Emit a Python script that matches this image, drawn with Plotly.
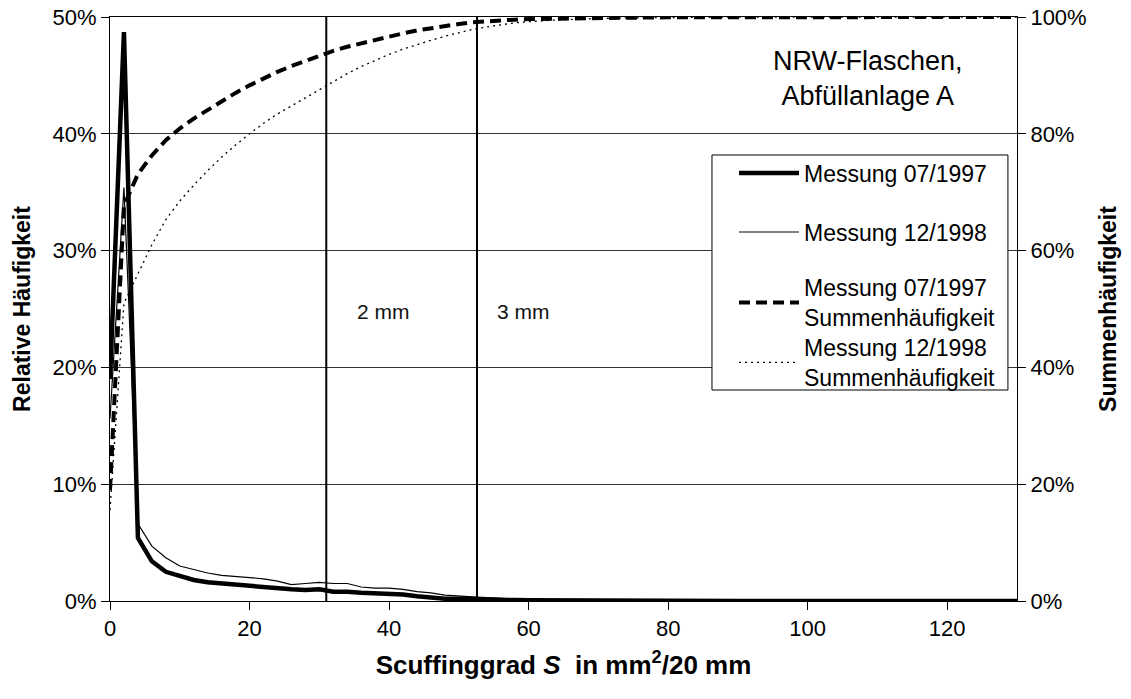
import plotly.graph_objects as go

# Scuffinggrad S (mm^2/20 mm)
s_values = list(range(0, 132, 2))

# Relative Häufigkeit (%)
rel_0797 = [19.0, 48.7, 5.4, 3.4, 2.5, 2.1, 1.8, 1.6, 1.5, 1.4,
            1.3, 1.2, 1.05, 1.0, 0.95, 1.0, 0.8, 0.8, 0.7, 0.65,
            0.6, 0.55, 0.4, 0.3, 0.2, 0.2, 0.15, 0.1, 0.1, 0.08,
            0.06, 0.05, 0.04, 0.03, 0.03, 0.02, 0.02, 0.02, 0.01, 0.01,
            0.01, 0.01, 0.01, 0.0, 0.0, 0.0, 0.0, 0.0, 0.0, 0.0,
            0.0, 0.0, 0.0, 0.0, 0.0, 0.0, 0.0, 0.0, 0.0, 0.0,
            0.0, 0.0, 0.0, 0.0, 0.0, 0.0]
rel_1298 = [15.6, 35.4, 6.6, 4.7, 3.7, 3.0, 2.7, 2.4, 2.2, 2.1,
            2.0, 1.9, 1.7, 1.4, 1.5, 1.6, 1.5, 1.5, 1.2, 1.1,
            1.1, 1.0, 0.8, 0.7, 0.5, 0.4, 0.35, 0.3, 0.2, 0.15,
            0.1, 0.08, 0.06, 0.05, 0.04, 0.03, 0.03, 0.02, 0.02, 0.01,
            0.01, 0.01, 0.01, 0.01, 0.0, 0.0, 0.0, 0.0, 0.0, 0.0,
            0.0, 0.0, 0.0, 0.0, 0.0, 0.0, 0.0, 0.0, 0.0, 0.0,
            0.0, 0.0, 0.0, 0.0, 0.0, 0.0]

# Summenhäufigkeit (%)
cum_0797 = [19.0, 67.7, 73.1, 76.3, 78.9, 80.9, 82.6, 84.1, 85.7, 87.0,
            88.3, 89.5, 90.6, 91.6, 92.5, 93.4, 94.2, 94.9, 95.5, 96.1,
            96.7, 97.2, 97.7, 98.1, 98.5, 98.8, 99.1, 99.3, 99.45, 99.55,
            99.65, 99.7, 99.75, 99.8, 99.83, 99.86, 99.88, 99.9, 99.92, 99.93,
            99.94, 99.95, 99.96, 99.97, 99.98, 99.98, 99.99, 99.99, 99.99, 100.0,
            100.0, 100.0, 100.0, 100.0, 100.0, 100.0, 100.0, 100.0, 100.0, 100.0,
            100.0, 100.0, 100.0, 100.0, 100.0, 100.0]
cum_1298 = [15.6, 51.0, 56.0, 61.0, 65.3, 68.5, 71.2, 73.7, 76.0, 78.1,
            80.0, 81.8, 83.4, 84.8, 86.2, 87.6, 89.0, 90.3, 91.5, 92.6,
            93.6, 94.5, 95.3, 96.0, 96.7, 97.3, 97.9, 98.3, 98.7, 99.0,
            99.2, 99.4, 99.5, 99.6, 99.7, 99.75, 99.8, 99.85, 99.88, 99.9,
            99.92, 99.94, 99.95, 99.96, 99.97, 99.98, 99.98, 99.99, 99.99, 100.0,
            100.0, 100.0, 100.0, 100.0, 100.0, 100.0, 100.0, 100.0, 100.0, 100.0,
            100.0, 100.0, 100.0, 100.0, 100.0, 100.0]

# Reference marks
mark_positions = [31.0, 52.6]
mark_labels = ["2 mm", "3 mm"]
mark_label_x = [39.2, 59.3]
mark_label_y = 24.8

x_ticks = [0, 20, 40, 60, 80, 100, 120]
y_ticks = [0, 10, 20, 30, 40, 50]
y_tick_labels = ["0%", "10%", "20%", "30%", "40%", "50%"]
y2_ticks = [0, 20, 40, 60, 80, 100]
y2_tick_labels = ["0%", "20%", "40%", "60%", "80%", "100%"]

FONT = "Liberation Sans, Arial, sans-serif"

fig = go.Figure()

fig.add_trace(go.Scatter(
    x=s_values, y=cum_0797, yaxis="y2", mode="lines",
    name="Messung 07/1997<br>Summenhäufigkeit", legend="legend3",
    line=dict(color="black", width=4, dash="11px,6px")))
fig.add_trace(go.Scatter(
    x=s_values, y=cum_1298, yaxis="y2", mode="lines",
    name="Messung 12/1998<br>Summenhäufigkeit", legend="legend4",
    line=dict(color="black", width=1.3, dash="2px,4px")))
fig.add_trace(go.Scatter(
    x=s_values, y=rel_1298, mode="lines",
    name="Messung 12/1998", legend="legend2",
    line=dict(color="black", width=1.2)))
fig.add_trace(go.Scatter(
    x=s_values, y=rel_0797, mode="lines",
    name="Messung 07/1997", legend="legend",
    line=dict(color="black", width=4.5)))

for xp in mark_positions:
    fig.add_shape(type="line", x0=xp, x1=xp, y0=0, y1=50, xref="x", yref="y",
                  line=dict(color="black", width=2))
for lx, lt in zip(mark_label_x, mark_labels):
    fig.add_annotation(x=lx, y=mark_label_y, xref="x", yref="y", text=lt,
                       showarrow=False, font=dict(size=21, color="#111", family=FONT))

# legend frame
fig.add_shape(type="rect", xref="paper", yref="paper",
              x0=0.6637, x1=0.990, y0=0.3613, y1=0.7637,
              fillcolor="white", line=dict(color="black", width=1), layer="above")

fig.add_annotation(x=0.8357, y=0.8947, xref="paper", yref="paper",
                   text="NRW-Flaschen,<br>Abfüllanlage A", showarrow=False,
                   align="center", xanchor="center", yanchor="middle",
                   font=dict(size=27, color="black", family=FONT))

legend_common = dict(x=0.688, xanchor="left", yanchor="middle",
                     bgcolor="rgba(0,0,0,0)", borderwidth=0,
                     font=dict(size=23, family=FONT, color="black"),
                     itemwidth=60)
legend_y = [0.7329, 0.6318, 0.5111, 0.4084]

fig.update_layout(
    width=1131, height=699,
    margin=dict(l=110, r=114, t=17, b=98),
    paper_bgcolor="white", plot_bgcolor="white",
    font=dict(family=FONT, size=22, color="black"),
    showlegend=True,
    legend=dict(y=legend_y[0], **legend_common),
    legend2=dict(y=legend_y[1], **legend_common),
    legend3=dict(y=legend_y[2], **legend_common),
    legend4=dict(y=legend_y[3], **legend_common),
    xaxis=dict(range=[0, 130], tickvals=x_ticks, ticks="outside", ticklen=8,
               tickcolor="black", showline=True, linecolor="black", linewidth=1,
               mirror=True, showgrid=False, zeroline=False, automargin=False,
               ticklabeloverflow="allow", tickfont=dict(size=22),
               title=dict(text="<b>Scuffinggrad <i>S</i>  in mm<sup>2</sup>/20 mm</b>",
                          font=dict(size=26), standoff=15)),
    yaxis=dict(range=[0, 50], tickvals=y_ticks, ticktext=y_tick_labels,
               ticks="outside", ticklen=8, tickcolor="black", showline=True,
               linecolor="black", linewidth=1, showgrid=True, gridcolor="#333",
               gridwidth=1, zeroline=False, automargin=False,
               ticklabeloverflow="allow", tickfont=dict(size=22),
               title=dict(text="<b>Relative Häufigkeit</b>", font=dict(size=23),
                          standoff=15)),
    yaxis2=dict(range=[0, 100], tickvals=y2_ticks, ticktext=y2_tick_labels,
                overlaying="y", side="right", ticks="outside", ticklen=8,
                tickcolor="black", showline=True, linecolor="black", linewidth=1,
                showgrid=False, zeroline=False, automargin=False,
                ticklabeloverflow="allow", tickfont=dict(size=22),
                title=dict(text="<b>Summenhäufigkeit</b>", font=dict(size=23),
                           standoff=14)),
)

# remove the default 8px page margin so the figure fills the window exactly
fig.write_html("out.html",
               config={"displayModeBar": False},
               post_script="document.body.style.margin='0';document.body.style.overflow='hidden';")
